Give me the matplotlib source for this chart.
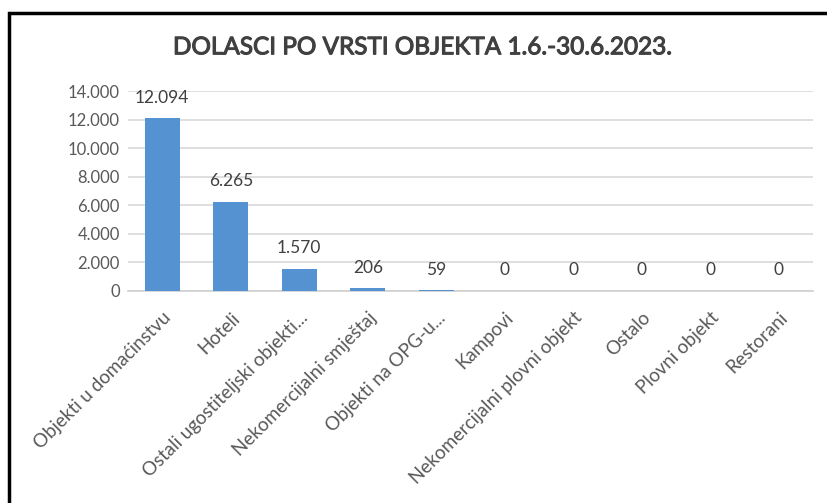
import matplotlib.pyplot as plt
import matplotlib.patheffects as pe
from matplotlib.patches import Rectangle

kategorije = ["Objekti u domaćinstvu", "Hoteli", "Ostali ugostiteljski objekti...",
              "Nekomercijalni smještaj", "Objekti na OPG-u...", "Kampovi",
              "Nekomercijalni plovni objekt", "Ostalo", "Plovni objekt", "Restorani"]
dolasci = [12094, 6265, 1570, 206, 59, 0, 0, 0, 0, 0]
y_ticks = [0, 2000, 4000, 6000, 8000, 10000, 12000, 14000]


def fmt(v):
    return f"{v:,}".replace(",", ".")


plt.rcParams['font.family'] = ['Lato', 'DejaVu Sans']

fig = plt.figure(figsize=(8.28, 5.03), dpi=100)
ax = fig.add_axes([0.1546, 0.4215, 0.8274, 0.3975])

x = range(len(kategorije))
ax.bar(x, dolasci, width=0.51, color="#5592d2", zorder=3)

for i, v in zip(x, dolasci):
    ax.annotate(fmt(v), (i, v), xytext=(0, 9), textcoords="offset points",
                ha="center", va="bottom", fontsize=12.5, color="#404040")

ax.set_ylim(0, 14000)
ax.set_xlim(-0.5, len(kategorije) - 0.5)
ax.set_yticks(y_ticks)
ax.set_yticklabels([fmt(t) for t in y_ticks], fontsize=12, color="#595959")
ax.set_xticks(list(x))
ax.set_xticklabels(kategorije, rotation=45, ha="right", rotation_mode="anchor",
                   fontsize=13.5, color="#595959")
ax.tick_params(axis="both", length=0, pad=6)
ax.tick_params(axis="x", pad=13)
ax.yaxis.grid(True, color="#d9d9d9", lw=1.2, zorder=0)
for s in ["top", "right", "left"]:
    ax.spines[s].set_visible(False)
ax.spines["bottom"].set_color("#d0d0d0")
ax.spines["bottom"].set_linewidth(1.2)

fig.text(0.51, 0.905, "DOLASCI PO VRSTI OBJEKTA 1.6.-30.6.2023.", ha="center",
         va="center", fontsize=17.5, color="#404040",
         path_effects=[pe.withStroke(linewidth=0.8, foreground="#404040")])

# crni okvir (desno i dolje izlazi iz slike)
fig.patches.append(Rectangle((9 / 828, -0.05), 1.2, 1 - 13 / 503 + 0.05,
                             transform=fig.transFigure, fill=False,
                             edgecolor="black", lw=2.5))

fig.savefig("out.png", dpi=100)
